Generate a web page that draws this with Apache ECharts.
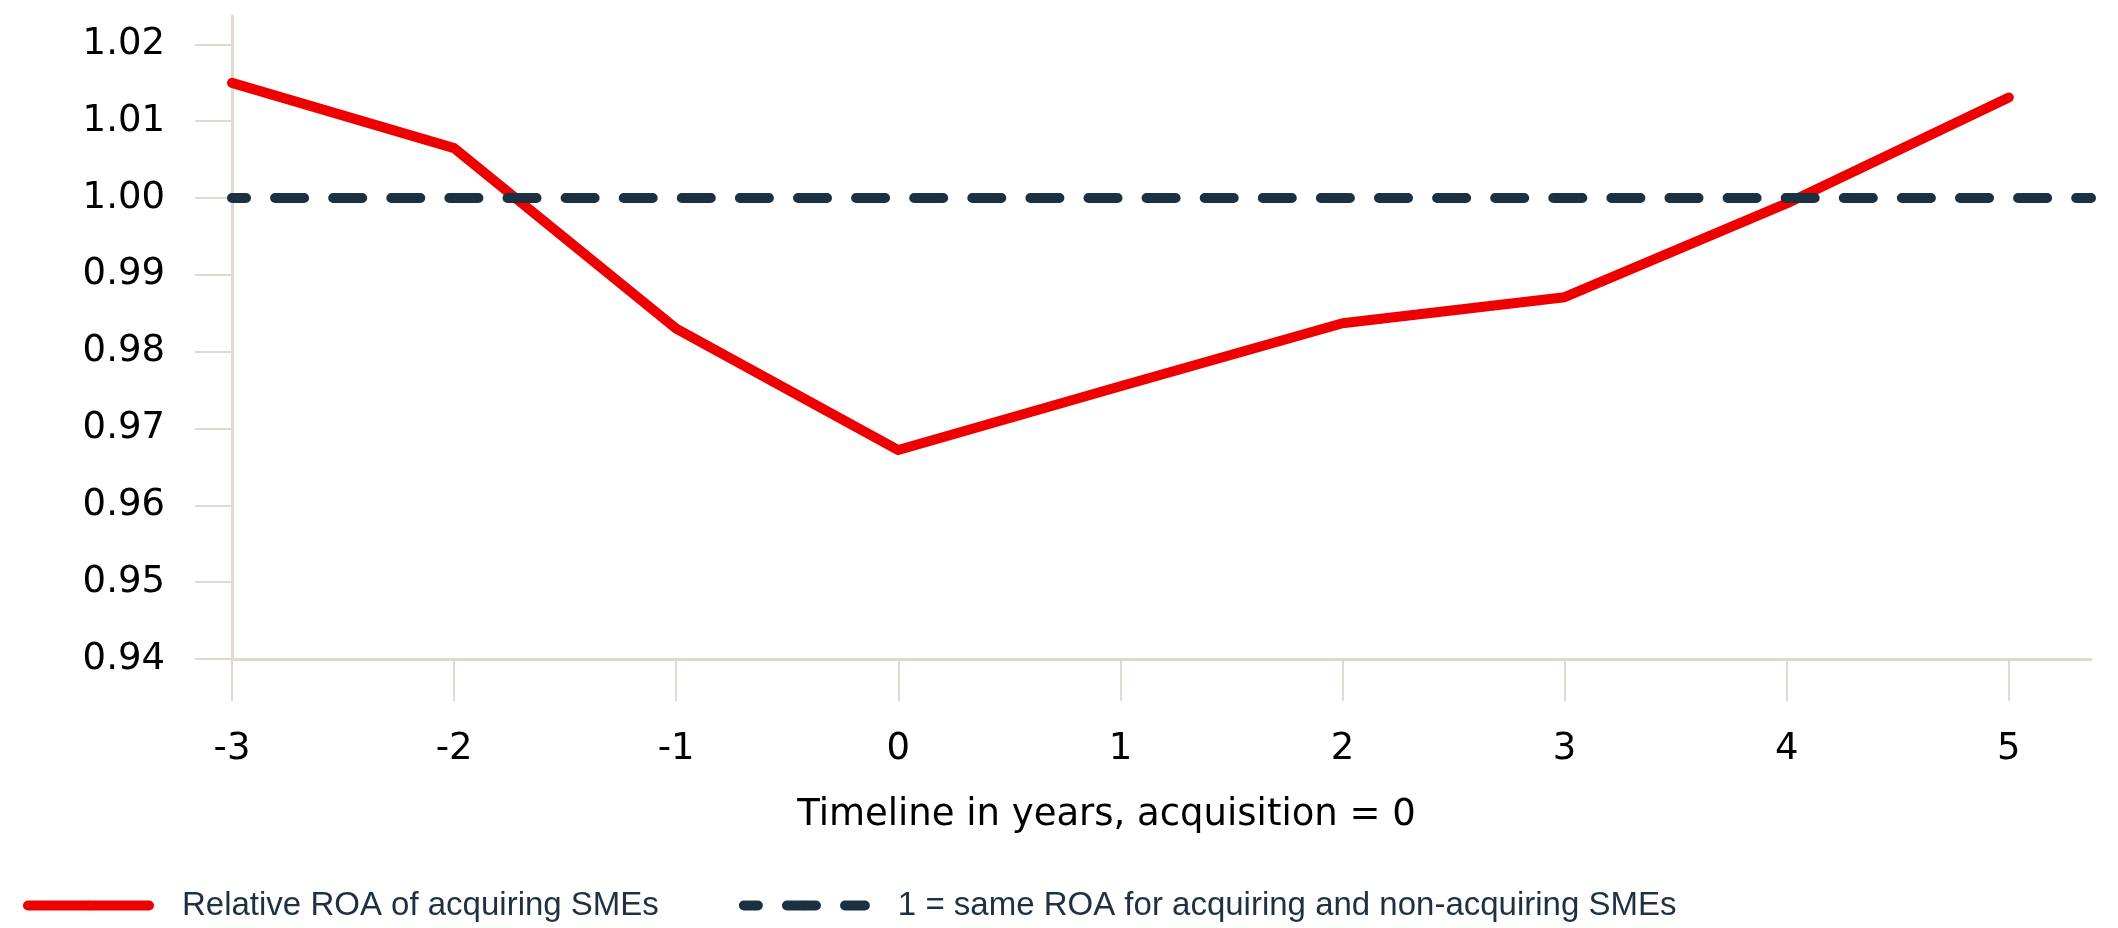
<!DOCTYPE html>
<html>
<head>
<meta charset="utf-8">
<title>Relative ROA of acquiring SMEs</title>
<script src="https://cdn.jsdelivr.net/npm/echarts@6/dist/echarts.min.js"></script>
<style>
  html, body { margin: 0; padding: 0; background: #fff; }
  #chart { width: 2118px; height: 928px; }
</style>
</head>
<body>
<div id="chart"></div>
<script>
// years around the acquisition (0 = acquisition year)
const years = [-3, -2, -1, 0, 1, 2, 3, 4, 5];
// ROA of acquirers relative to non-acquirers
const relativeRoa = [1.0150, 1.0065, 0.9830, 0.9672, 0.9755, 0.9837, 0.9871, 0.9993, 1.0131];
// reference level, runs over the whole x range
const sameRoa = [1, 1];

const xTicks = [-3, -2, -1, 0, 1, 2, 3, 4, 5];
const yTicks = [0.94, 0.95, 0.96, 0.97, 0.98, 0.99, 1.00, 1.01, 1.02];
const xMin = -3, xMax = 5.37;
const yMin = 0.94, yMax = 1.0237;

const redName = 'Relative ROA of acquiring SMEs';
const refName = '1 = same ROA for acquiring and non-acquiring SMEs';

const axisColor = '#e0d9d2';
const axisFont = 'DejaVu Sans';
const red = '#ee0000';
const navy = '#1b3040';

const chart = echarts.init(document.getElementById('chart'));

const option = {
  animation: false,
  backgroundColor: '#fff',
  grid: {
    left: 232,
    right: 27,
    top: 16,
    bottom: 269,
    containLabel: false,
    outerBoundsMode: 'none'
  },
  legend: {
    left: 18,
    top: 884,
    itemWidth: 121,
    itemHeight: 12,
    itemGap: 80,
    textStyle: {
      fontFamily: 'Liberation Sans',
      fontSize: 33,
      color: '#1e3142',
      padding: [0, 0, 0, 28]
    },
    data: [
      {name: redName, lineStyle: {color: red, width: 10, cap: 'round'}},
      {name: refName, lineStyle: {color: navy, width: 10, cap: 'round', type: [29, 29.1], dashOffset: 15}}
    ]
  },
  xAxis: {
    type: 'value',
    min: xMin,
    max: xMax,
    name: 'Timeline in years, acquisition = 0',
    nameLocation: 'middle',
    nameGap: 138,
    nameTextStyle: {
      fontFamily: axisFont,
      fontSize: 37,
      color: '#000',
      padding: [0, 110, 0, 0]
    },
    axisLine: {show: true, onZero: false, lineStyle: {color: axisColor, width: 3}},
    axisTick: {show: true, length: 42, customValues: xTicks, lineStyle: {color: axisColor, width: 2}},
    axisLabel: {
      customValues: xTicks,
      margin: 72,
      fontFamily: axisFont,
      fontSize: 37,
      color: '#000',
      formatter: v => String(v)
    },
    splitLine: {show: false}
  },
  yAxis: {
    type: 'value',
    min: yMin,
    max: yMax,
    axisLine: {show: true, onZero: false, lineStyle: {color: axisColor, width: 3}},
    axisTick: {show: true, length: 37, customValues: yTicks, lineStyle: {color: axisColor, width: 2}},
    axisLabel: {
      customValues: yTicks,
      margin: 67,
      fontFamily: axisFont,
      fontSize: 37,
      color: '#000',
      padding: [0, 0, 10, 0],
      formatter: v => v.toFixed(2)
    },
    splitLine: {show: false}
  },
  series: [
    {
      name: redName,
      type: 'line',
      symbol: 'none',
      data: years.map((y, i) => [y, relativeRoa[i]]),
      lineStyle: {color: red, width: 10, cap: 'round', join: 'round'},
      itemStyle: {color: red},
      z: 2
    },
    {
      name: refName,
      type: 'line',
      symbol: 'none',
      data: [[xMin, sameRoa[0]], [xMax, sameRoa[1]]],
      lineStyle: {color: navy, width: 10, cap: 'round', type: [29, 29.1], dashOffset: 15},
      itemStyle: {color: navy},
      z: 3
    }
  ]
};

chart.setOption(option);
</script>
</body>
</html>
